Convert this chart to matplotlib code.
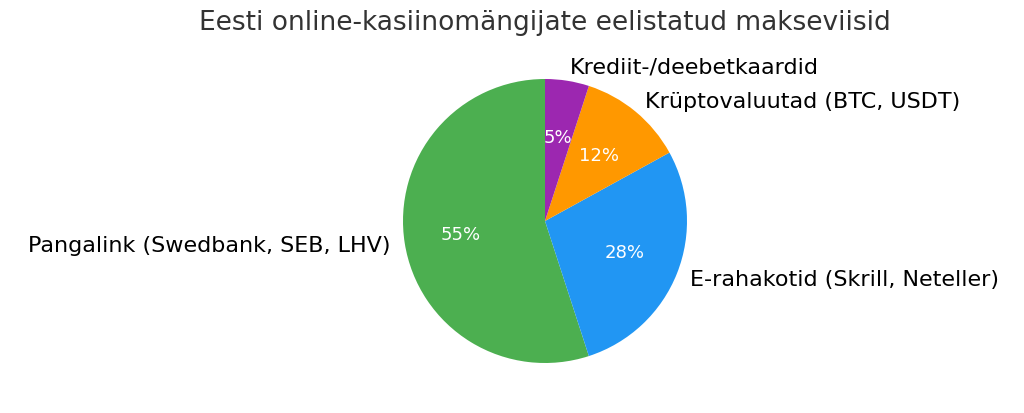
import matplotlib.pyplot as plt

labels = ["Pangalink (Swedbank, SEB, LHV)", "E-rahakotid (Skrill, Neteller)",
          "Krüptovaluutad (BTC, USDT)", "Krediit-/deebetkaardid"]
shares = [55, 28, 12, 5]
colors = ["#4CAF50", "#2196F3", "#FF9800", "#9C27B0"]

fig = plt.figure(figsize=(10.24, 4.14), dpi=100)
ax = fig.add_axes([(545 - 142) / 1024, (414 - 222 - 142) / 414, 284 / 1024, 284 / 414])
wedges, texts, autotexts = ax.pie(shares, labels=labels, colors=colors, autopct="%1.0f%%",
                                  startangle=90, textprops={"fontsize": 16})
for t in autotexts:
    t.set_color("white")
    t.set_fontsize(13)
ax.set_xlim(-1, 1)
ax.set_ylim(-1, 1)
ax.set_aspect("equal")
fig.suptitle("Eesti online-kasiinomängijate eelistatud makseviisid", fontsize=19,
             color="#333333", x=0.532, y=0.975)
fig.savefig("out.png", dpi=100)
